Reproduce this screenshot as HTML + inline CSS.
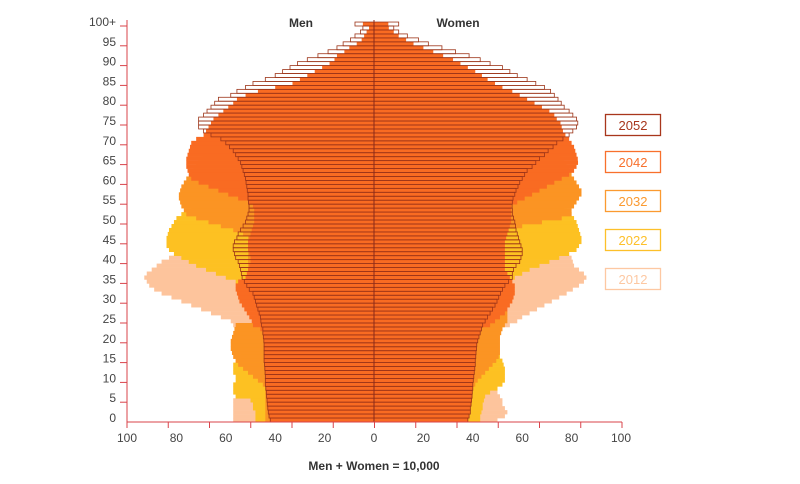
<!DOCTYPE html>
<html><head><meta charset="utf-8">
<style>
html,body{margin:0;padding:0;background:#fff;}
svg{display:block;font-family:"Liberation Sans",sans-serif;}
</style></head>
<body>
<svg id="chart" width="800" height="484" viewBox="0 0 800 484" xmlns="http://www.w3.org/2000/svg">
<g id="bars"></g>
<g id="axes"></g>
<text x="301" y="27" font-size="12" font-weight="bold" fill="#333" text-anchor="middle">Men</text>
<text x="458" y="27" font-size="12" font-weight="bold" fill="#333" text-anchor="middle">Women</text>
<text x="374" y="470" font-size="12" font-weight="bold" fill="#333" text-anchor="middle">Men + Women = 10,000</text>
<g>
<g><rect x="605.5" y="114.5" width="55" height="21" fill="#fff" stroke="#a8361c" stroke-width="1.3"/><text x="633" y="130" font-size="13" fill="#a8361c" text-anchor="middle">2052</text></g>
<g><rect x="605.5" y="151.5" width="55" height="21" fill="#fff" stroke="#f8702c" stroke-width="1.3"/><text x="633" y="167" font-size="13" fill="#f8702c" text-anchor="middle">2042</text></g>
<g><rect x="605.5" y="190.5" width="55" height="21" fill="#fff" stroke="#fb9a30" stroke-width="1.3"/><text x="633" y="206" font-size="13" fill="#fb9a30" text-anchor="middle">2032</text></g>
<g><rect x="605.5" y="229.5" width="55" height="21" fill="#fff" stroke="#fdc02a" stroke-width="1.3"/><text x="633" y="245" font-size="13" fill="#fdc02a" text-anchor="middle">2022</text></g>
<g><rect x="605.5" y="268.5" width="55" height="21" fill="#fff" stroke="#fdc8a2" stroke-width="1.3"/><text x="633" y="284" font-size="13" fill="#fdc8a2" text-anchor="middle">2012</text></g>
</g>
</svg>
<script>
const years = ["2012","2022","2032","2042","2052"];
const xTickLabels = ["100","80","60","40","20","0","20","40","60","80","100"];
const yTickLabels = ["0","5","10","15","20","25","30","35","40","45","50","55","60","65","70","75","80","85","90","95","100+"];

const men2012 = [57,57,57,57,57,57,56,55,55,55, 54,54,54,54,54,54,54,54,54,54, 54,54,55,56,57,58,62,66,70,74, 78,82,86,89,91,92,93,92,90,88, 86,83,80,76,72,70,68,66,64,63, 62,61,60,60,60,60,60,61,62,63, 64,64,64,63,62,61,60,59,58,57, 56,54,52,50,48,46,44,42,40,38, 36,33,30,27,24,21,18,15,12,10, 8,6,5,4,3,2,2,1,1,1, 1];
const men2022 = [48,48,48,49,49,50,56,57,57,57, 56,56,57,57,57,56,54,53,52,51, 50,49,48,47,46,46,46,47,48,49, 50,51,52,53,54,56,60,64,68,72, 75,78,81,83,84,84,84,83.5,83,82, 81,80,78,76,74,73,72,72,72,72, 72,72,71,71,70,70,69,68,67,66, 64,62,60,58,56,54,52,50,48,46, 44,41,38,35,32,29,26,23,20,17, 14,12,10,8,6,5,4,3,2,2, 2];
const men2032 = [44,44,44,44,44,44,44,44,44,45, 47,49,51,53,55,56,57,57.5,58,58, 58,57.5,57,56.5,56,48,48,48,48,49, 49,49,50,50,50,50,51,51,51,51, 51,51,51,51,51,51,51,53,57,62, 67,72,76,77,78,78.5,79,79,78.5,78, 77,76,74,73,72,71,70,69,68,67, 66,64,62,60,58,56,54,52,50,48, 46,44,41,38,35,32,28,24,20,17, 14,11,9,7,5,4,3,2,2,1, 1];
const men2042 = [42,42.5,42.8,43,43.2,43.3,43.5,43.6,43.8,44, 44,44,44.1,44.2,44.3,44.5,44.5,44.5,44.5,44.5, 44.6,44.8,45,46,49,49.5,50.5,51.5,52.5,53.5, 54.5,55,55.5,56,56,55,52,51.5,51,50.5, 50,50,50.5,51,51,51,50.5,50,49.5,49, 48.5,48.5,48.5,48.5,49,51,55,59,63,67, 71,74,75,75.5,76,76,76,75.5,75,74.5, 74,72,69,68,67,66,65,63,61,59, 57,55.5,52,47,40,33,30,27,24,21, 18,16,15,12,10,7,5,4,3,2, 4.5];
const men2052 = [42,42.5,42.8,43,43.2,43.3,43.5,43.6,43.8,44, 44,44,44.1,44.2,44.3,44.5,44.5,44.5,44.5,44.5, 44.6,44.8,45,45,45.5,45.8,46,46.5,47,47.5, 48,48.5,49,50.5,51.5,52.5,53.4,53.7,54,54.5, 55,56,56.5,57,57,56.5,55.5,55,54,53, 52,51.5,51,50.6,50.6,50.8,51,51,51.3,51.5, 51.8,52,52.5,53,53.5,54,55,56,57,58.5, 60,62,66,69,71,71,71,69,67.6,66, 64.5,63,58,55.5,52,49,44,40,37,34, 31,27,22.7,18.6,15,12.5,9.5,7.7,5.5,4.5, 7.7];

const women2012 = [50,53,54,53,52,52,51,50,48,47, 47,47,47,47,47,47,47,47,46,46, 46,47,49,52,55,58,60,63,66,69, 72,75,78,80.5,83,85,86,85,83,81, 80.5,80,79,78,76,74,72,70,68,66, 65,64,63,63,63,63,63,64,64,65, 65,66,66,66,65,65,64,63,62,61, 60,58,56,54,52,50,48,46,44,42, 40,37,34,31,28,25,22,19,16,13, 10,8,6,5,4,3,2,2,1,1, 1];
const women2022 = [43,43,43.5,44,44,44.5,45,47,50,52, 53,53,53,53,52.5,52,51,50,49,48, 47,46,46,46,46,46,46,46,47,47, 48,49,50,51,52,55,57,60,63,67, 71,75,79,82,83,84,84,83.5,83,82.5, 82,81,80,78,77,76,76,76,76,76, 76,75,75,74,73,72,71,70,69,68, 67,66,64,62,60,58,56,54,52,50, 47,44,41,38,35,32,29,26,23,20, 17,14,12,10,8,6,5,4,3,2, 2];
const women2032 = [37.5,38,38.5,38.5,39,39,39,39.5,40,41, 42,43.5,45,46.5,48,49.5,50.5,51,51,51, 51,51,51.5,52,53,54,54,54,53,52, 51,51,51,51,51,51,51,51,51,51, 51,51,51,51,51,51,51,52,54,60, 68,76,80,80,81,82,83,84,84,83, 82,81,80,79,78,77,76,75,74,73, 72,70,68,66,64,62,60,58,56,54, 52,49,46,43,40,37,34,31,28,25, 22,19,16,13,10,8,6,5,4,3, 3];
const women2042 = [38,38.5,39,39,39.3,39.5,39.7,39.8,40,40, 40.2,40.4,40.6,40.8,41,41,41.2,41.3,41.5,41.6, 42,42.5,43,43.5,47,49,51,53,54,55, 56,56.5,57,57,57,56,55,54,53,53, 53,53,53,53,53,53,53.5,54,54.5,55, 55.5,55.5,55.5,55.5,55.5,58,61,64,67,70, 73,76,79,81,82,82.6,82.5,82,81.5,81, 80,79,77.5,76.5,76,75.5,74,73,71,68, 65,62,59,56,52,49,46,43.7,41,38, 35,32,28,24,20,16,13,10,8,6, 5.8];
const women2052 = [38,38.5,39,39,39.3,39.5,39.7,39.8,40,40, 40.2,40.4,40.6,40.8,41,41,41.2,41.3,41.5,41.6, 42,42.5,43,43.5,44,45,46,47,48,49, 49.8,50.5,51.2,52,53,54.5,56,56,56.5,57.5, 59,59.5,60,60,59.5,59,58.5,58,57.5,57.3, 57,56.5,56,56,55.9,56,56.3,57,57.5,58.3, 59,60,61,62,64,65.5,67,69,70.5,72.5, 74,76.5,79,80.5,82,82.5,82,80.5,79,77, 75.8,74.5,73,71.5,69,65.5,62,58,55,52, 47,43,38.5,33,27.5,22,18,13.5,10,8, 10];

const menSeries = [men2012, men2022, men2032, men2042, men2052];
const womenSeries = [women2012, women2022, women2032, women2042, women2052];
const fills = ["#fdc49c","#fdc122","#fb9423","#f96b22","none"];

const NS = "http://www.w3.org/2000/svg";
const X0 = 374, PX = 2.47, Y0 = 422, BH = 3.96;
function xMen(v){ return X0 - v*PX; }
function xWomen(v){ return X0 + v*PX; }
function yAge(a){ return Y0 - (a+1)*BH; }

const barsG = document.getElementById("bars");
years.forEach(function(yr, s){
  const g = document.createElementNS(NS, "g");
  
  
  barsG.appendChild(g);
  [menSeries[s], womenSeries[s]].forEach(function(arr, side){
    arr.forEach(function(v, age){
      const r = document.createElementNS(NS, "rect");
      const x = side === 0 ? xMen(v) : X0;
      const w = Math.abs(xWomen(v) - X0);
      r.setAttribute("x", x);
      r.setAttribute("y", yAge(age));
      r.setAttribute("width", w);
      r.setAttribute("height", BH + (s < 4 ? 0.3 : 0));
      if (s < 4) { r.setAttribute("fill", fills[s]); }
      else { r.setAttribute("fill", "none"); r.setAttribute("stroke", "#9c3418"); r.setAttribute("stroke-width", "0.8"); }
      
      
      g.appendChild(r);
    });
  });
});

const axG = document.getElementById("axes");
function line(x1,y1,x2,y2,c,w,name){
  const l = document.createElementNS(NS,"line");
  l.setAttribute("x1",x1);l.setAttribute("y1",y1);l.setAttribute("x2",x2);l.setAttribute("y2",y2);
  l.setAttribute("stroke",c);l.setAttribute("stroke-width",w);
  
  
  axG.appendChild(l);
}
function text(x,y,s,anchor,name){
  const t = document.createElementNS(NS,"text");
  t.setAttribute("x",x);t.setAttribute("y",y);t.setAttribute("font-size","12");
  t.setAttribute("fill","#444");t.setAttribute("text-anchor",anchor);
  t.textContent = s;
  
  
  axG.appendChild(t);
}
line(X0, 20, X0, Y0, "#8b2a18", 1, "center-line");
line(127, 20, 127, Y0, "#d9434a", 1, "y-axis-line");
line(127, Y0, 622, Y0, "#d9434a", 1, "x-axis-line");
yTickLabels.forEach(function(lab, i){
  const y = Y0 - i*5*BH;
  if (i > 0) line(120, y, 127, y, "#d9434a", 1, "y-tick");
  text(116, y - 4 + 4, lab, "end", "y-tick-label");
});
for (let i = 0; i <= 12; i++){
  const x = 127 + i*(622-127)/12;
  line(x, Y0, x, Y0+6, "#d9434a", 1, "x-tick");
}
xTickLabels.forEach(function(lab, i){
  const v = Math.abs(i - 5) * 20;
  const x = i < 5 ? xMen(v) : xWomen(v);
  text(x, 442, lab, "middle", "x-tick-label");
});
</script>
</body></html>
